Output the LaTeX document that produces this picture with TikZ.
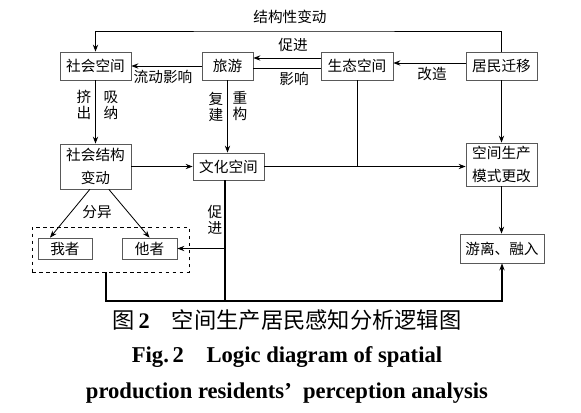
\documentclass[tikz,border=0pt]{standalone}
\usepackage{fontspec}
\setmainfont{Liberation Serif}
\newfontfamily\cjk{Noto Sans CJK SC}
\usepackage{tikz}
\usetikzlibrary{arrows.meta,positioning}
\tikzset{
  nodo/.style={draw=black!65,fill=white,line width=0.6pt,font=\cjk\fontsize{12.5}{15}\selectfont,inner sep=1pt,align=center},
  nodo2/.style={font=\cjk\fontsize{12.5}{19.5}\selectfont},
  flecha/.style={-{Stealth[length=6pt,width=4.5pt,inset=2pt]},line width=0.7pt},
  linea/.style={line width=0.7pt},
  gruesa/.style={line width=1.1pt},
  etiq/.style={font=\cjk\fontsize{12.5}{13.5}\selectfont,inner sep=0pt,align=center},
  grupo/.style={draw,dashed,line width=0.8pt}
}
\begin{document}
\begin{tikzpicture}[x=0.03cm,y=-0.03cm]
\useasboundingbox (0,0) rectangle (581,412);
% cajas de arriba
\node[nodo,minimum width=2.13cm,minimum height=0.84cm] (shehui) at (95.5,66) {社会空间};
\node[nodo,minimum width=1.53cm,minimum height=0.84cm] (lvyou) at (227.5,66) {旅游};
\node[nodo,minimum width=2.16cm,minimum height=0.84cm] (shengtai) at (357,66) {生态空间};
\node[nodo,minimum width=2.13cm,minimum height=0.84cm] (jumin) at (501.5,66) {居民迁移};
% cajas del medio
\node[nodo,nodo2,minimum width=2.13cm,minimum height=1.35cm] (jiegou) at (95.5,166.5) {社会结构\\变动};
\node[nodo,minimum width=2.13cm,minimum height=0.81cm] (wenhua) at (228.5,166.5) {文化空间};
\node[nodo,nodo2,minimum width=2.13cm,minimum height=1.29cm] (moshi) at (501.5,164.5) {空间生产\\模式更改};
% cajas de abajo
\node[grupo,minimum width=4.71cm,minimum height=1.35cm] (gr) at (110.5,249.5) {};
\node[nodo,minimum width=1.62cm,minimum height=0.63cm] (wozhe) at (65,248.5) {我者};
\node[nodo,minimum width=1.65cm,minimum height=0.63cm] (tazhe) at (149.5,248.5) {他者};
\node[nodo,minimum width=2.52cm,minimum height=0.87cm] (youli) at (502,248.5) {游离、融入};
% conectores
\coordinate (arriba) at (290,31);
\coordinate (abajo) at (225,301);
\draw[flecha] (jumin.north) |- (arriba) -| (shehui.north);
\draw[flecha] ([yshift=0.24cm]shengtai.west) -- ([yshift=0.24cm]lvyou.east);
\draw[linea] ([yshift=-0.06cm]lvyou.east) -- ([yshift=-0.06cm]shengtai.west);
\draw[flecha] ([yshift=0.09cm]jumin.west) -- ([yshift=0.09cm]shengtai.east);
\draw[flecha] (lvyou.west) -- (shehui.east);
\draw[flecha] (shehui.south) -- (jiegou.north);
\draw[flecha] (lvyou.south) -- (lvyou.south |- wenhua.north);
\draw[flecha] (jiegou.east) -- (wenhua.west);
\draw[flecha] (wenhua.east) -- (wenhua.east -| moshi.west);
\draw[linea] (shengtai.south) -- (shengtai.south |- wenhua.east);
\draw[flecha] (jumin.south) -- (moshi.north);
\draw[flecha] (moshi.south) -- (moshi.south |- youli.north);
\draw[gruesa] (wenhua.south -| abajo) -- (abajo);
\draw[flecha] (abajo |- tazhe.east) -- (tazhe.east);
\draw[flecha,gruesa] ([xshift=-0.135cm]gr.south) |- (abajo) -| (youli.south);
\draw[flecha] ([xshift=-0.17cm]jiegou.south) -- ([xshift=-0.45cm]wozhe.north);
\draw[flecha] ([xshift=0.4cm]jiegou.south) -- (tazhe.north);
% etiquetas
\node[etiq] (l1) at (290,17) {结构性变动};
\node[etiq] (l2) at (293,45) {促进};
\node[etiq] (l3) at (294,79) {影响};
\node[etiq] (l4) at (432,74) {改造};
\node[etiq] (l5) at (163,77) {流动影响};
\node[etiq] (l6) at (84,105) {挤\\出};
\node[etiq] (l7) at (111,105) {吸\\纳};
\node[etiq] (l8) at (216,107) {复\\建};
\node[etiq] (l9) at (240,106) {重\\构};
\node[etiq] (l10) at (97,212) {分异};
\node[etiq] (l11) at (215,220) {促\\进};
% pie de figura
\node[font=\cjk\fontsize{19}{22}\selectfont] (tit) at (287,320) {图\,{\rmfamily\bfseries 2}\quad 空间生产居民感知分析逻辑图};
\node[font=\bfseries\fontsize{19.3}{23}\selectfont] (fig1) at (287,357) {Fig.\,2\quad Logic diagram of spatial};
\node[font=\bfseries\fontsize{19.3}{23}\selectfont] (fig2) at (287,393) {production residents’\ \ perception analysis};
\end{tikzpicture}
\end{document}
